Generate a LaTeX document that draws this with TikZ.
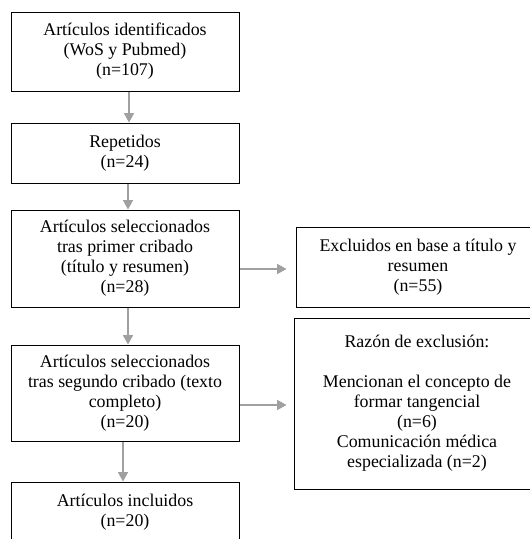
\documentclass[tikz,border=0pt]{standalone}
\usepackage{fontspec}
\setmainfont{Liberation Serif}
\usetikzlibrary{arrows.meta,calc}
\definecolor{arrowgray}{HTML}{A0A0A0}
\tikzset{
  stagebox/.style={draw=black, line width=0.75pt, fill=white, align=center, inner sep=0pt,
    font=\fontsize{13.4pt}{15pt}\selectfont},
  flowarrow/.style={draw=arrowgray, line width=0.9pt, -{Triangle[width=7.5pt,length=7pt]}, arrowgray}
}
\begin{document}
\begin{tikzpicture}[x=0.75pt, y=-0.75pt]
  \useasboundingbox[fill=white] (0,0) rectangle (530,539);
  % Main column
  \node[stagebox, minimum width=171pt, minimum height=59.25pt] (ident) at (125,51.5)
    {Artículos identificados\\(WoS y Pubmed)\\(n=107)};
  \node[stagebox, minimum width=171pt, minimum height=45pt] (repet) at (125,153)
    {Repetidos\\(n=24)};
  \node[stagebox, minimum width=171pt, minimum height=72.75pt] (cribA) at (125,258.5)
    {Artículos seleccionados\\tras primer cribado\\(título y resumen)\\(n=28)};
  \node[stagebox, minimum width=171pt, minimum height=72pt] (cribB) at (125,393)
    {Artículos seleccionados\\tras segundo cribado (texto\\completo)\\(n=20)};
  \node[stagebox, minimum width=171pt, minimum height=45pt] (incl) at (125,512)
    {Artículos incluidos\\(n=20)};
  % Exclusion boxes
  \node[stagebox, minimum width=183pt, minimum height=60pt] (exclA) at (418,267)
    {Excluidos en base a título y\\resumen\\(n=55)};
  \node[stagebox, minimum width=184.5pt, minimum height=128.25pt] (exclB) at (417,403.5)
    {Razón de exclusión:\\[15pt]Mencionan el concepto de\\formar tangencial\\(n=6)\\Comunicación médica\\especializada (n=2)};
  % Arrows
  \draw[flowarrow] ($(ident.south)+(4,0)$) -- ($(repet.north)+(4,0)$);
  \draw[flowarrow] ($(repet.south)+(3,0)$) -- ($(cribA.north)+(3,0)$);
  \draw[flowarrow] ($(cribA.south)+(3,0)$) -- ($(cribB.north)+(3,0)$);
  \draw[flowarrow] ($(cribB.south)+(-2,0)$) -- ($(incl.north)+(-2,0)$);
  \draw[flowarrow] ($(cribA.east)+(0,10.5)$) -- ($(exclA.west)+(-9,2)$);
  \draw[flowarrow] ($(cribB.east)+(0,12)$) -- ($(exclB.west)+(-7,1.5)$);
\end{tikzpicture}
\end{document}
